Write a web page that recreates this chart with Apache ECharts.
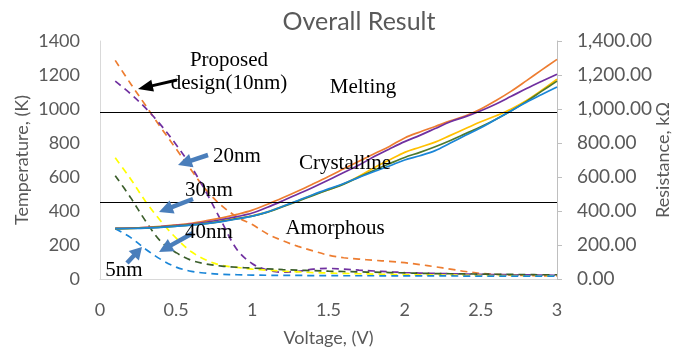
<!DOCTYPE html>
<html><head><meta charset="utf-8">
<script src="https://cdn.jsdelivr.net/npm/echarts@6/dist/echarts.min.js"></script>
<style>html,body{margin:0;padding:0;background:#fff}#c{width:676px;height:351px}</style>
</head><body><div id="c"></div>
<script>
const voltage = [0.1,0.2,0.3,0.4,0.5,0.6,0.7,0.8,0.9,1.0,1.1,1.2,1.3,1.4,1.5,1.6,1.7,1.8,1.9,2.0,2.1,2.2,2.3,2.4,2.5,2.6,2.7,2.8,2.9,3.0];
// Temperature (K), solid lines, left axis
const tempOrange = [298,300,304,310,318,328,343,360,380,405,440,478,518,560,603,648,693,737,780,830,865,897,930,960,1000,1050,1105,1167,1230,1292];
const tempPurple = [298,299,302,308,315,323,335,350,367,388,422,460,500,540,582,627,670,720,765,808,845,885,925,955,990,1030,1075,1120,1163,1205];
const tempYellow = [296,297,300,305,311,318,327,340,355,372,395,428,460,495,525,560,605,655,700,745,775,805,845,885,925,960,1000,1050,1110,1175];
const tempGreen  = [296,297,300,305,311,318,327,340,355,370,393,425,458,492,525,558,600,640,678,715,745,778,815,855,895,940,990,1045,1105,1164];
const tempBlue   = [296,297,300,304,310,317,326,338,353,370,395,428,462,497,530,562,598,632,665,700,725,755,800,845,890,940,990,1040,1085,1129];
// Resistance (kΩ), dashed lines, right axis
const resOrange = [1286,1150,1020,890,765,640,520,430,365,320,265,225,192,165,140,125,117,110,104,96,85,72,58,44,33,27,23,21,19,18];
const resPurple = [1164,1090,1005,905,790,660,505,335,172,90,52,40,45,58,62,58,52,47,42,38,35,33,31,29,27,26,25,24,23,22];
const resYellow = [713,590,455,340,240,160,110,80,68,58,52,46,42,38,35,33,31,29,27,26,25,24,23,22,21,20,20,19,19,18];
const resGreen  = [608,480,340,220,155,110,88,76,69,64,60,55,52,49,46,44,42,40,38,36,34,32,31,30,29,28,27,26,25,25];
const resBlue   = [295,245,175,115,70,45,34,28,25,23,22,21,21,20,20,19,19,19,18,18,18,18,18,17,17,17,17,17,17,17];
const meltingLevel = 982;
const amorphousLevel = 450;
const yTicks = [0,200,400,600,800,1000,1200,1400];

const pair = arr => voltage.map((v,i)=>[v,arr[i]]);
const FONT = 'Lato';
const GRAY = '#595959';

function solid(name, data, color, extra){
  return Object.assign({name, type:'line', yAxisIndex:0, data:pair(data), showSymbol:false, smooth:0.35,
    lineStyle:{color, width:1.7}, itemStyle:{color}, z:3}, extra||{});
}
function dashed(name, data, color){
  return {name, type:'line', yAxisIndex:1, data:pair(data), showSymbol:false, smooth:0.35,
    lineStyle:{color, width:1.7, type:[7,5]}, itemStyle:{color}, z:2};
}

function arrow(x1,y1,x2,y2,color,w,hl,hw){
  const dx=x2-x1, dy=y2-y1, L=Math.hypot(dx,dy), ux=dx/L, uy=dy/L;
  const bx=x2-ux*hl, by=y2-uy*hl, px=-uy, py=ux;
  return [
    {type:'line', shape:{x1,y1,x2:bx+ux*1,y2:by+uy*1}, style:{stroke:color, lineWidth:w}, z:20},
    {type:'polygon', shape:{points:[[x2,y2],[bx+px*hw/2,by+py*hw/2],[bx-px*hw/2,by-py*hw/2]]}, style:{fill:color}, z:20}
  ];
}
function txt(x,y,s){
  return {type:'text', x, y, style:{text:s, font:'21px "Liberation Serif"', fill:'#000', align:'center', verticalAlign:'middle'}, z:21};
}
const BLUE_ARROW = '#4A7EBB';

const chart = echarts.init(document.getElementById('c'));
chart.setOption({
  animation:false,
  backgroundColor:'#fff',
  title:{text:'Overall Result', left:354, top:4, textAlign:'center',
    textStyle:{fontFamily:FONT, fontSize:25, fontWeight:'normal', color:GRAY}},
  grid:{left:100, right:119, top:41, bottom:72, containLabel:false, outerBoundsMode:'none'},
  xAxis:{type:'value', min:0, max:3, interval:0.5, name:'Voltage, (V)', nameLocation:'middle', nameGap:50, nameMoveOverlap:false,
    nameTextStyle:{fontFamily:FONT, fontSize:18, color:GRAY},
    axisLine:{lineStyle:{color:'#D9D9D9'}}, axisTick:{show:false}, splitLine:{show:false},
    axisLabel:{fontFamily:FONT, fontSize:18, color:GRAY, margin:22}},
  yAxis:[
    {type:'value', min:yTicks[0], max:yTicks[yTicks.length-1], interval:200, name:'Temperature, (K)', nameLocation:'middle', nameGap:69, nameMoveOverlap:false,
     nameTextStyle:{fontFamily:FONT, fontSize:18, color:GRAY},
     axisLine:{show:true, lineStyle:{color:'#D9D9D9'}}, axisTick:{show:false}, splitLine:{show:false},
     axisLabel:{fontFamily:FONT, fontSize:18, color:GRAY, margin:20, formatter:v=>String(v)}},
    {type:'value', min:yTicks[0], max:yTicks[yTicks.length-1], interval:200, name:'Resistance, kΩ', nameLocation:'middle', nameGap:97, nameMoveOverlap:false,
     nameTextStyle:{fontFamily:FONT, fontSize:18, color:GRAY},
     axisLine:{show:true, lineStyle:{color:'#BFBFBF'}}, axisTick:{show:true, length:5, lineStyle:{color:'#BFBFBF'}}, splitLine:{show:false},
     axisLabel:{fontFamily:FONT, fontSize:19, color:GRAY, margin:20,
       formatter:v=>v.toLocaleString('en-US',{minimumFractionDigits:2, maximumFractionDigits:2})}}
  ],
  series:[
    dashed('R 10nm b', resOrange, '#ED7D31'),
    dashed('R 10nm', resPurple, '#7030A0'),
    dashed('R 30nm', resYellow, '#FFFF00'),
    dashed('R 40nm', resGreen, '#3B5E2B'),
    dashed('R 5nm', resBlue, '#1A86D8'),
    solid('T a', tempOrange, '#ED7D31', {markLine:{silent:true, symbol:'none', label:{show:false},
      lineStyle:{color:'#000', width:1, type:'solid'}, data:[{yAxis:meltingLevel},{yAxis:amorphousLevel}]}}),
    solid('T b', tempPurple, '#7030A0'),
    solid('T c', tempYellow, '#FFC000'),
    solid('T d', tempGreen, '#4E7A2E'),
    solid('T e', tempBlue, '#1A86D8')
  ],
  graphic:[
    txt(229,60,'Proposed'), txt(229,83,'design(10nm)'), txt(363,87,'Melting'),
    txt(237,156,'20nm'), txt(345,163,'Crystalline'), txt(209,190,'30nm'),
    txt(209,232,'40nm'), txt(335,228,'Amorphous'), txt(124,270,'5nm'),
    ...arrow(177,80,138,89,'#000',3,15,12),
    ...arrow(208,155,178,165,BLUE_ARROW,4.5,14,14),
    ...arrow(193,199,159,212,BLUE_ARROW,4.5,14,14),
    ...arrow(193,233,159,252,BLUE_ARROW,4.5,14,14),
    ...arrow(127,263,142,247,BLUE_ARROW,4.5,12,14)
  ]
});
</script></body></html>
